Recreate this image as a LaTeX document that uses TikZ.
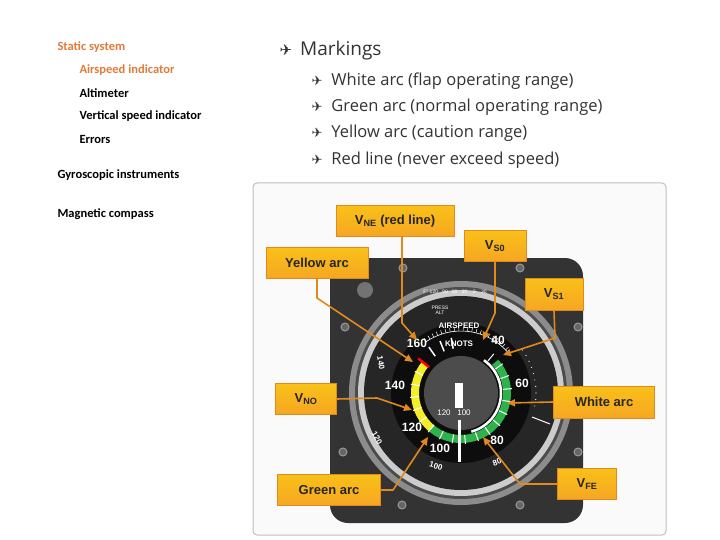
\documentclass[tikz,border=0pt]{standalone}
\usepackage{fontspec}
\setmainfont{Open Sans}
\newfontfamily\lfont{Carlito}
\newfontfamily\gfont{Liberation Sans}
\newfontfamily\sym{DejaVu Sans}
\usetikzlibrary{arrows.meta}
\definecolor{orng}{HTML}{F6A623}
\definecolor{orngd}{HTML}{E08A1E}
\definecolor{ltxt}{HTML}{E07B39}
\definecolor{txt}{HTML}{333333}
\definecolor{grn}{HTML}{2DB34A}
\definecolor{ylw}{HTML}{F2EE2A}
\tikzset{
 lbl/.style={draw=orngd,line width=1pt,top color=orng!70!yellow,bottom color=orng,font=\gfont\bfseries\fontsize{13}{13}\selectfont,text=black!85,inner sep=0pt},
 ptr/.style={orngd,line width=1.6pt,-{Triangle[length=8pt,width=7pt]}},
 side/.style={anchor=west,font=\lfont\bfseries\fontsize{12.5}{14}\selectfont},
 mk/.style={anchor=west,font=\fontsize{16.5}{18}\selectfont,text=txt},
 gnum/.style={text=white,font=\gfont\bfseries\fontsize{12}{12}\selectfont,inner sep=0pt},
 snum/.style={text=white,font=\gfont\bfseries\fontsize{8}{8}\selectfont,inner sep=0pt},
 screw/.style={fill=black!60,draw=black!40,line width=1pt}
}
\begin{document}
\begin{tikzpicture}[x=1pt,y=1pt]
\useasboundingbox[fill=white] (0,0) rectangle (720,-540);
\node[side,text=ltxt] (s1) at (54,-47) {Static system};
\node[side,text=ltxt] (s2) at (76,-70) {Airspeed indicator};
\node[side] (s3) at (76,-93) {Altimeter};
\node[side] (s4) at (76,-116) {Vertical speed indicator};
\node[side] (s5) at (76,-139) {Errors};
\node[side] (s6) at (54,-175) {Gyroscopic instruments};
\node[side] (s7) at (54,-214) {Magnetic compass};
\node[anchor=west,text=txt,font=\fontsize{19}{20}\selectfont] (m0) at (276,-51) {{\sym\fontsize{15}{16}\selectfont\char"2708}\hspace{8pt}Markings};
\node[mk] (m1) at (308,-81) {{\sym\fontsize{13}{14}\selectfont\char"2708}\hspace{9pt}White arc (flap operating range)};
\node[mk] (m2) at (308,-107) {{\sym\fontsize{13}{14}\selectfont\char"2708}\hspace{9pt}Green arc (normal operating range)};
\node[mk] (m3) at (308,-133) {{\sym\fontsize{13}{14}\selectfont\char"2708}\hspace{9pt}Yellow arc (caution range)};
\node[mk] (m4) at (308,-160) {{\sym\fontsize{13}{14}\selectfont\char"2708}\hspace{9pt}Red line (never exceed speed)};
\draw[black!25,fill=black!2,rounded corners=4pt,line width=1pt] (253,-183) rectangle (666,-535);
\fill[black!80,rounded corners=18pt] (330,-258) rectangle (583,-523);
\foreach \p in {(403,-268),(520,-268),(345,-327),(578,-327),(343,-452),(578,-452),(402,-505),(520,-505)} \fill[screw] \p circle (4);
\fill[black!55] (365,-290) circle (8);
\coordinate (c) at (461,-393);
\fill[black!45] (c) circle (112);
\fill[black!70] (c) circle (106);
\fill[black!20] (c) circle (103);
\fill[black!85] (c) circle (97);
\fill[black!95] (c) circle (70);
\draw[white,line width=0.6pt] ([shift={(c)}]125:62) arc[start angle=125,end angle=40,radius=62];
\foreach \a in {124,120,...,44} \draw[white,line width=0.5pt] ([shift={(c)}]\a:62) -- ([shift={(c)}]\a:66);
\foreach \a in {35,30,...,-10} \fill[white] ([shift={(c)}]\a:75) circle (0.6);
\node[snum,font=\gfont\fontsize{5}{5}\selectfont] at (455,-292) {F° 120 \; 90 \; 60 \; 30 \;\; 0 \;\; 30};
\node[snum,font=\gfont\fontsize{5}{5}\selectfont,align=center] at (440,-310) {PRESS\\ALT};
\node[snum] at (459,-326) {AIRSPEED};
\node[snum] at (459,-344) {KNOTS};
\draw[grn,line width=8pt] ([shift={(c)}]42:46) arc[start angle=42,end angle=-130,radius=46];
\draw[ylw,line width=8pt] ([shift={(c)}]-130:46) arc[start angle=-130,end angle=-219,radius=46];
\draw[white,line width=2.5pt] ([shift={(c)}]55:40) arc[start angle=55,end angle=-75,radius=40];
\foreach \a in {50,35,...,-205} \draw[white,line width=1pt] ([shift={(c)}]\a:42) -- ([shift={(c)}]\a:51);
\draw[red,line width=2.5pt] ([shift={(c)}]141:41) -- ([shift={(c)}]141:55);
\foreach \a in {125,112,100} \draw[white,line width=1.5pt] ([shift={(c)}]\a:45) -- ([shift={(c)}]\a:56);
\fill[black!70] (c) circle (37);
\fill[white] (455,-383) rectangle (463,-408);
\node[snum,font=\gfont\fontsize{8}{8}\selectfont] at (454,-413) {120 \; 100};
\draw[white,line width=3pt] (459,-420) -- (459,-462);
\node[gnum] at (498,-340) {40};
\node[gnum] at (522,-383) {60};
\node[gnum] at (497,-440) {80};
\node[gnum] at (440,-448) {100};
\node[gnum] at (412,-427) {120};
\node[gnum] at (395,-385) {140};
\node[gnum] at (417,-343) {160};
\node[snum,rotate=-80] at (381,-363) {140};
\node[snum,rotate=-60] at (377,-438) {120};
\node[snum,rotate=-15] at (436,-466) {100};
\node[snum,rotate=20] at (497,-462) {80};
\draw[white,line width=1pt] (532,-417) -- (550,-424);
\node[lbl,minimum width=118pt,minimum height=30pt] (vne) at (395,-221) {V\textsubscript{NE} (red line)};
\node[lbl,minimum width=102pt,minimum height=31pt] (ya) at (317,-263) {Yellow arc};
\node[lbl,minimum width=62pt,minimum height=31pt] (vs0) at (495,-246) {V\textsubscript{S0}};
\node[lbl,minimum width=58pt,minimum height=32pt] (vs1) at (554,-294) {V\textsubscript{S1}};
\node[lbl,minimum width=61pt,minimum height=31pt] (vno) at (306,-399) {V\textsubscript{NO}};
\node[lbl,minimum width=101pt,minimum height=32pt] (wa) at (604,-402) {White arc};
\node[lbl,minimum width=103pt,minimum height=31pt] (ga) at (329,-490) {Green arc};
\node[lbl,minimum width=59pt,minimum height=31pt] (vfe) at (587,-484) {V\textsubscript{FE}};
\coordinate (t1) at (417,-340); \coordinate (t2) at (413,-362); \coordinate (t3) at (483,-340);
\coordinate (t4) at (503,-355); \coordinate (t5) at (412,-410); \coordinate (t6) at (507,-403);
\coordinate (t7) at (428,-437); \coordinate (t8) at (483,-437);
\draw[ptr] (vne.south -| 402,0) -- (402,-323) -- (t1);
\draw[ptr] (ya.south) -- (317,-298) -- (t2);
\draw[ptr] (vs0.south) -- (495,-313) -- (t3);
\draw[ptr] (vs1.south) -- (555,-338) -- (t4);
\draw[ptr] (vno.east) -- (377,-398) -- (t5);
\draw[ptr] (wa.west) -- (t6);
\draw[ptr] (ga.east) -- (393,-490) -- (t7);
\draw[ptr] (vfe.west) -- (520,-484) -- (t8);
\end{tikzpicture}
\end{document}
